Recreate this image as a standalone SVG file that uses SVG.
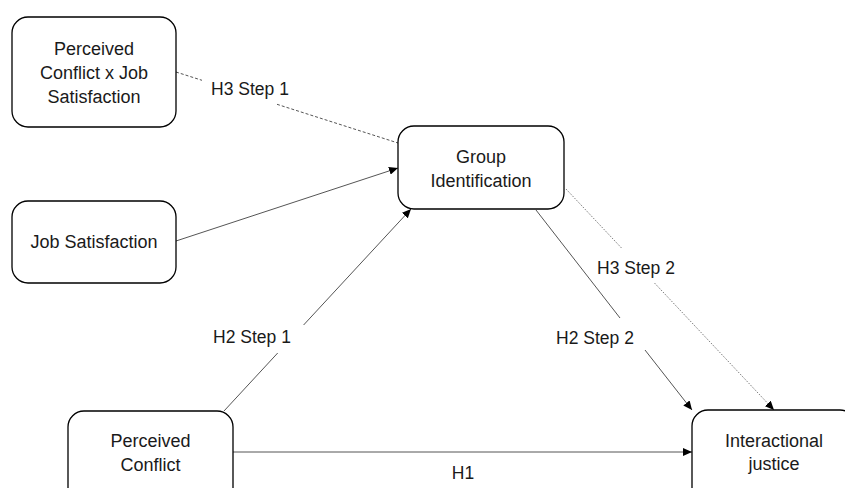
<svg xmlns="http://www.w3.org/2000/svg" width="845" height="488" viewBox="0 0 845 488">
<style>
.box{fill:#fff;stroke:#000;stroke-width:1.3}
.t{font-family:"Liberation Sans",Arial,sans-serif;font-size:18px;fill:#1a1a1a;text-anchor:middle}
.lbl{font-family:"Liberation Sans",Arial,sans-serif;font-size:17.5px;fill:#1a1a1a;text-anchor:middle}
.c{fill:none;stroke:#555;stroke-width:1}
.dash{stroke-dasharray:3 2}
.dot{stroke-dasharray:1 1.5}
</style>
<defs>
<marker id="arr" markerUnits="userSpaceOnUse" markerWidth="10" markerHeight="8" refX="9" refY="4" orient="auto">
<path d="M0,0 L9,4 L0,8 Z" fill="#000"/>
</marker>
</defs>
<rect width="845" height="488" fill="#fff"/>
<g id="connectors">
<path class="c dash" d="M176,72 L202,80.3 M277,104.3 L398,143"/>
<path class="c" d="M176,241 L398,168" marker-end="url(#arr)"/>
<path class="c" d="M224,411 L277.7,353 M303.6,325 L411,209" marker-end="url(#arr)"/>
<path class="c" d="M536,210 L620,318 M645,350 L692,410" marker-end="url(#arr)"/>
<path class="c dot" d="M566,189 L621.5,248 M654.5,283 L774,410" marker-end="url(#arr)"/>
<path class="c" d="M233,452 L692,452" marker-end="url(#arr)"/>
<text class="lbl" x="250" y="95">H3 Step 1</text>
<text class="lbl" x="252" y="343">H2 Step 1</text>
<text class="lbl" x="595" y="344">H2 Step 2</text>
<text class="lbl" x="636" y="274">H3 Step 2</text>
<text class="lbl" x="463" y="479">H1</text>
</g>
<g id="node-interaction">
<rect class="box" x="12" y="17" width="164" height="110" rx="16"/>
<text class="t" x="94" y="55">Perceived</text>
<text class="t" x="94" y="79">Conflict x Job</text>
<text class="t" x="94" y="103">Satisfaction</text>
</g>
<g id="node-jobsat">
<rect class="box" x="12" y="201" width="164" height="82" rx="16"/>
<text class="t" x="94" y="248">Job Satisfaction</text>
</g>
<g id="node-groupid">
<rect class="box" x="398" y="126" width="166" height="83" rx="16"/>
<text class="t" x="481" y="163">Group</text>
<text class="t" x="481" y="187">Identification</text>
</g>
<g id="node-conflict">
<rect class="box" x="68" y="411" width="165" height="110" rx="16"/>
<text class="t" x="150.5" y="447">Perceived</text>
<text class="t" x="150.5" y="471">Conflict</text>
</g>
<g id="node-justice">
<rect class="box" x="692" y="410" width="164" height="110" rx="16"/>
<text class="t" x="774" y="447">Interactional</text>
<text class="t" x="774" y="470">justice</text>
</g>
</svg>
